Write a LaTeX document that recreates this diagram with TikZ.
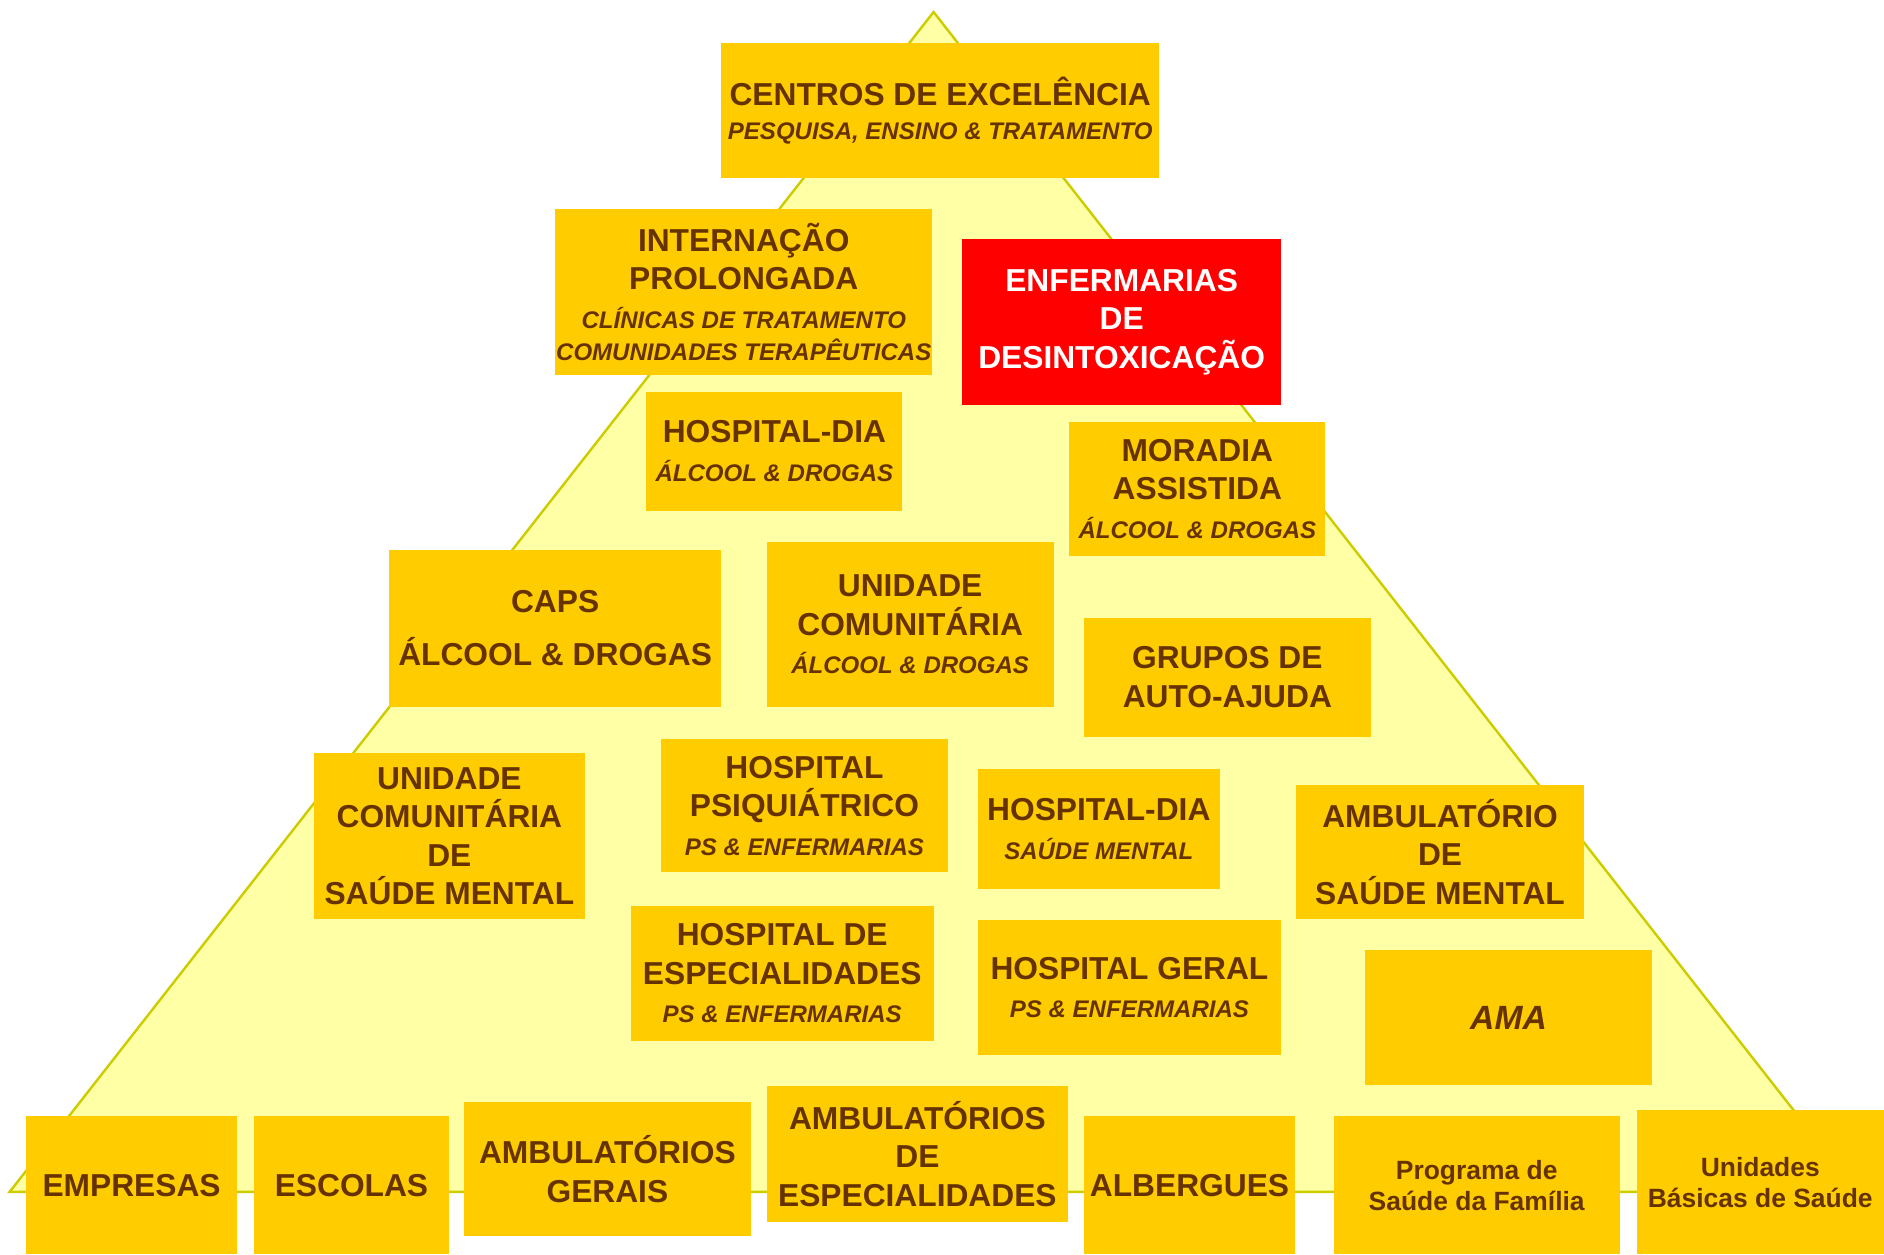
\documentclass[tikz,border=0pt]{standalone}
\usepackage{fontspec}
\setmainfont{Liberation Sans}
\definecolor{boxfill}{RGB}{255,204,0}
\definecolor{boxtext}{RGB}{102,51,0}
\definecolor{pyrfill}{RGB}{255,255,165}
\definecolor{pyrline}{RGB}{204,204,0}
\definecolor{alertred}{RGB}{255,0,0}
\newcommand\bigtxt{\fontsize{13.2}{16}\selectfont\bfseries}
\newcommand\subtxt{\fontsize{10}{13.5}\selectfont\bfseries\itshape}
\newcommand\lowtxt{\fontsize{11}{13}\selectfont\bfseries}
\begin{document}
\begin{tikzpicture}[
          x=0.5pt, y=-0.5pt,
          lvl-box/.style = {fill=boxfill, text=boxtext, align=center, inner sep=0pt, font=\bigtxt},
          red-box/.style = {lvl-box, fill=alertred, text=white},
          sz/.style 2 args = {minimum width=#1*0.5pt, minimum height=#2*0.5pt}
        ]
          \useasboundingbox (0,0) rectangle (1568,1043.7);
          \fill[white] (0,0) rectangle (1568,1043.7);

          % piramide
          \draw[pyrline, fill=pyrfill, line width=1pt] (777,10) -- (1546,992) -- (8,992) -- cycle;

          \node[lvl-box, sz={365}{112}] (centros) at (782.5,92) {CENTROS DE EXCELÊNCIA\\[-2pt]{\subtxt PESQUISA, ENSINO \& TRATAMENTO}};
          \node[lvl-box, sz={314}{138}] (intern) at (619,243) {INTERNAÇÃO\\PROLONGADA\\{\subtxt CLÍNICAS DE TRATAMENTO}\\[-2.5pt]{\subtxt COMUNIDADES TERAPÊUTICAS}};
          \node[red-box, sz={265}{138}] (desint) at (933.5,268) {ENFERMARIAS\\DE\\DESINTOXICAÇÃO};
          \node[lvl-box, sz={213}{99}] (hdia-ad) at (644.5,375.5) {HOSPITAL-DIA\\{\subtxt ÁLCOOL \& DROGAS}};
          \node[lvl-box, sz={213}{112}] (moradia) at (996.5,407) {MORADIA\\ASSISTIDA\\{\subtxt ÁLCOOL \& DROGAS}};
          \node[lvl-box, sz={276}{130}] (caps) at (462,523) {CAPS\\[6pt]ÁLCOOL \& DROGAS};
          \node[lvl-box, sz={239}{137}] (uc-ad) at (757.5,519.5) {UNIDADE\\COMUNITÁRIA\\{\subtxt ÁLCOOL \& DROGAS}};
          \node[lvl-box, sz={239}{99}] (grupos) at (1021.5,563.5) {GRUPOS DE\\AUTO-AJUDA};
          \node[lvl-box, sz={226}{138}] (uc-sm) at (374,696) {UNIDADE\\COMUNITÁRIA\\DE\\SAÚDE MENTAL};
          \node[lvl-box, sz={239}{111}] (hpsiq) at (669.5,670.5) {HOSPITAL\\PSIQUIÁTRICO\\{\subtxt PS \& ENFERMARIAS}};
          \node[lvl-box, sz={201}{100}] (hdia-sm) at (914.5,690) {HOSPITAL-DIA\\{\subtxt SAÚDE MENTAL}};
          \node[lvl-box, sz={239}{112}] (amb-sm) at (1198.5,709) {AMBULATÓRIO\\DE\\SAÚDE MENTAL};
          \node[lvl-box, sz={252}{112}] (hesp) at (651,810) {HOSPITAL DE\\ESPECIALIDADES\\{\subtxt PS \& ENFERMARIAS}};
          \node[lvl-box, sz={252}{112}] (hgeral) at (940,822) {HOSPITAL GERAL\\{\subtxt PS \& ENFERMARIAS}};
          \node[lvl-box, sz={239}{112}, font=\fontsize{14}{16}\selectfont\bfseries\itshape] (ama) at (1255.5,847) {AMA};

          % base da piramide
          \node[lvl-box, sz={175}{115}] (empresas) at (109.5,986.5) {EMPRESAS};
          \node[lvl-box, sz={163}{115}] (escolas) at (292.5,986.5) {ESCOLAS};
          \node[lvl-box, sz={239}{112}] (amb-ger) at (505.5,973) {AMBULATÓRIOS\\GERAIS};
          \node[lvl-box, sz={251}{113}] (amb-esp) at (763.5,960.5) {AMBULATÓRIOS\\DE\\ESPECIALIDADES};
          \node[lvl-box, sz={176}{115}] (albergues) at (990,986.5) {ALBERGUES};
          \node[lvl-box, sz={238}{115}, font=\lowtxt] (psf) at (1229,986.5) {Programa de\\Saúde da Família};
          \node[lvl-box, sz={206}{120}, font=\lowtxt] (ubs) at (1465,984) {Unidades\\Básicas de Saúde};
        \end{tikzpicture}
\end{document}
